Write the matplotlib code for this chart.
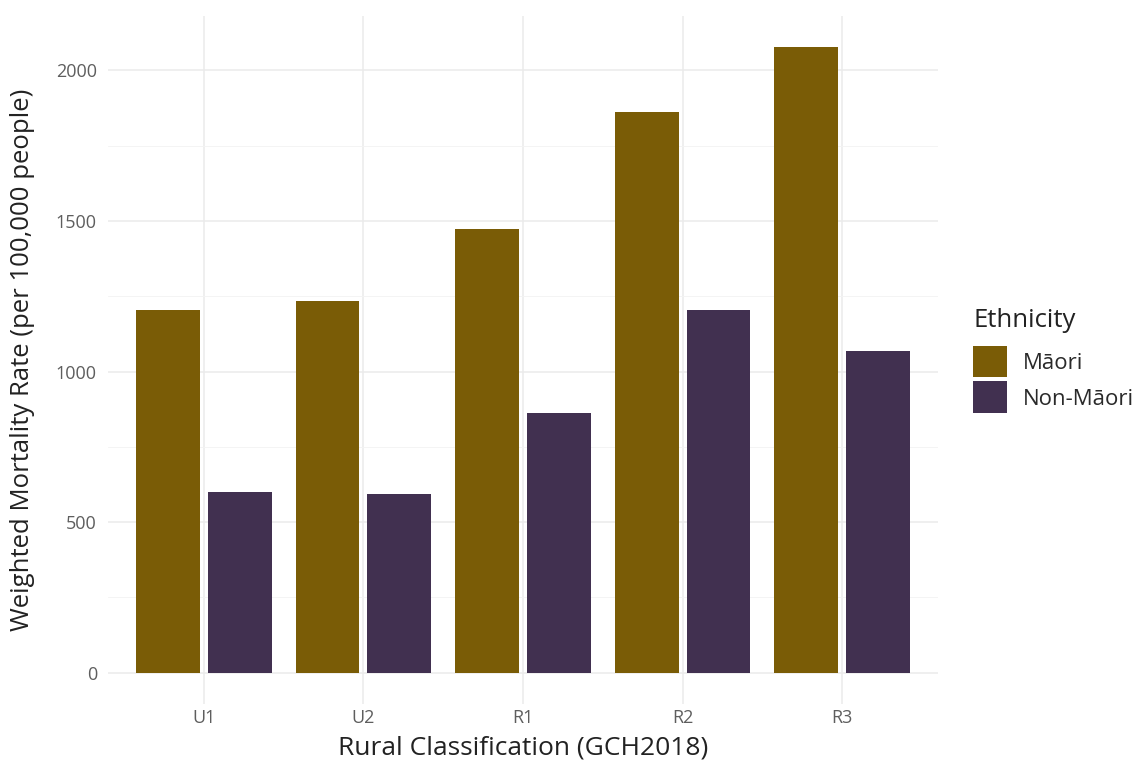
import matplotlib
matplotlib.use("Agg")
import matplotlib.pyplot as plt
import numpy as np
from matplotlib.ticker import MultipleLocator

plt.rcParams['font.family'] = ['Open Sans', 'DejaVu Sans']

categories = ["U1", "U2", "R1", "R2", "R3"]
maori = [1203, 1236, 1475, 1862, 2077]
non_maori = [601, 594, 861, 1205, 1070]
series_names = ["Māori", "Non-Māori"]
colors = ["#7A5C06", "#413050"]

fig = plt.figure(figsize=(11.46, 7.72), dpi=100)
ax = fig.add_axes([108 / 1146, 68 / 772, 830 / 1146, 688 / 772])

x = np.arange(len(categories))
w = 0.40
ax.bar(x - 0.225, maori, width=w, color=colors[0], label=series_names[0], zorder=3)
ax.bar(x + 0.225, non_maori, width=w, color=colors[1], label=series_names[1], zorder=3)

ymax = max(maori + non_maori)
ax.set_xlim(-0.6, len(categories) - 0.4)
ax.set_ylim(-0.05 * ymax, ymax * 1.05)
ax.set_xticks(x)
ax.set_xticklabels(categories)
ax.yaxis.set_major_locator(MultipleLocator(500))
ax.yaxis.set_minor_locator(MultipleLocator(250))

ax.grid(True, which='major', color='#EBEBEB', linewidth=1.1, zorder=0)
ax.grid(True, which='minor', axis='y', color='#F3F3F3', linewidth=0.6, zorder=0)
for s in ax.spines.values():
    s.set_visible(False)
ax.tick_params(axis='both', which='both', length=0, labelsize=13, labelcolor='#5e5e5e')
ax.tick_params(axis='x', pad=3.5)
ax.tick_params(axis='y', pad=8)

ax.set_xlabel("Rural Classification (GCH2018)", fontsize=19, color='#222222', labelpad=6)
ax.set_ylabel("Weighted Mortality Rate (per 100,000 people)", fontsize=18.5, color='#222222', labelpad=15)

fs = 16
leg = ax.legend(title="Ethnicity", loc='upper left', bbox_to_anchor=(973 / 1146, 1 - 308 / 772),
                bbox_transform=fig.transFigure, frameon=False, fontsize=fs,
                title_fontsize=18.5, handlelength=24.5 / fs, handleheight=(23 / fs - 0.245) / 0.65,
                labelspacing=2.9 / fs, handletextpad=11.5 / fs, borderaxespad=0, borderpad=0)
leg._legend_box.align = "left"
leg._legend_box.sep = 9
for t in leg.get_texts():
    t.set_color('#2a2a2a')
leg.get_title().set_color('#222222')

fig.savefig("out.png", dpi=100, facecolor='white')
